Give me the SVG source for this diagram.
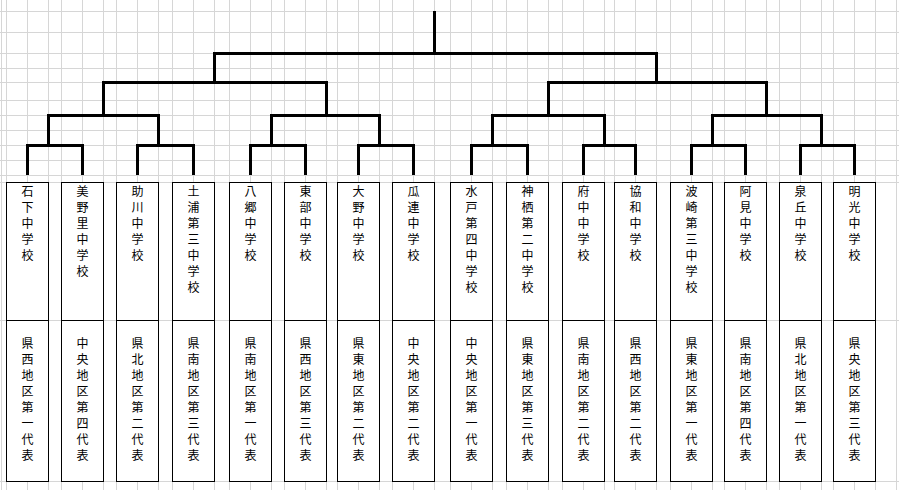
<svg xmlns="http://www.w3.org/2000/svg" width="899" height="490" viewBox="0 0 899 490">
<style>
.grid{stroke:#d6d6d6;stroke-width:1;fill:none}
.box{fill:#fff;stroke:#000;stroke-width:1}
.div{stroke:#000;stroke-width:1}
.con{fill:none;stroke:#000;stroke-width:3;stroke-linecap:butt;stroke-linejoin:miter}
.t{font-family:"Noto Sans CJK JP","Noto Sans CJK SC",sans-serif;font-size:12px;fill:#000;text-anchor:middle}
</style>
<rect width="899" height="490" fill="#fff"/>
<g id="grid" class="grid">
<path d="M1.5 0V490M6.5 0V490M896.5 0V490
M27.5 0V490M48.5 0V490M61.5 0V490M82.5 0V490M103.5 0V490M116.5 0V490M137.5 0V490M158.5 0V490
M172.5 0V490M193.5 0V490M214.5 0V490M229.5 0V490M250.5 0V490M271.5 0V490M284.5 0V490M305.5 0V490M326.5 0V490
M337.5 0V490M358.5 0V490M379.5 0V490M392.5 0V490M413.5 0V490M434.5 0V490M450.5 0V490M471.5 0V490M492.5 0V490
M506.5 0V490M527.5 0V490M548.5 0V490M562.5 0V490M583.5 0V490M604.5 0V490M614.5 0V490M635.5 0V490M656.5 0V490
M670.5 0V490M691.5 0V490M712.5 0V490M724.5 0V490M745.5 0V490M766.5 0V490M779.5 0V490M800.5 0V490M821.5 0V490
M833.5 0V490M854.5 0V490M875.5 0V490"/>
<path d="M0 11.5H899M0 32.5H899M0 53.5H899M0 68.5H899M0 82.5H899M0 100.5H899M0 115.5H899M0 130.5H899M0 145.5H899M0 160.5H899M0 175.5H899M0 182.5H899M0 320.5H899M0 481.5H899"/>
</g>
<g id="connectors" class="con">
<path d="M27.5 175V145.5H82.5V175"/>
<path d="M137.5 175V145.5H193.5V175"/>
<path d="M250.5 175V145.5H305.5V175"/>
<path d="M358.5 175V145.5H413.5V175"/>
<path d="M471.5 175V145.5H527.5V175"/>
<path d="M583.5 175V145.5H635.5V175"/>
<path d="M691.5 175V145.5H745.5V175"/>
<path d="M800.5 175V145.5H854.5V175"/>
<path d="M48.5 145.5V115.5H158.5V145.5"/>
<path d="M271.5 145.5V115.5H379.5V145.5"/>
<path d="M492.5 145.5V115.5H604.5V145.5"/>
<path d="M712.5 145.5V115.5H821.5V145.5"/>
<path d="M103.5 115.5V82.5H326.5V115.5"/>
<path d="M548.5 115.5V82.5H766.5V115.5"/>
<path d="M214.5 82.5V53.5H656.5V82.5"/>
<path d="M434.5 11V53.5"/>
</g>
<g id="n1"><rect class="box" x="6.5" y="182.5" width="42" height="299"/><line class="div" x1="6.5" y1="320.5" x2="48.5" y2="320.5"/>
<text class="t" x="27.5 27.5 27.5 27.5 27.5" y="196 212 228 244 260">石下中学校</text>
<text class="t" x="27.5 27.5 27.5 27.5 27.5 27.5 27.5 27.5" y="348 364 380 396 412 428 444 460">県西地区第一代表</text></g>
<g id="n2"><rect class="box" x="61.5" y="182.5" width="42" height="299"/><line class="div" x1="61.5" y1="320.5" x2="103.5" y2="320.5"/>
<text class="t" x="82.5 82.5 82.5 82.5 82.5 82.5" y="196 212 228 244 260 276">美野里中学校</text>
<text class="t" x="82.5 82.5 82.5 82.5 82.5 82.5 82.5 82.5" y="348 364 380 396 412 428 444 460">中央地区第四代表</text></g>
<g id="n3"><rect class="box" x="116.5" y="182.5" width="42" height="299"/><line class="div" x1="116.5" y1="320.5" x2="158.5" y2="320.5"/>
<text class="t" x="137.5 137.5 137.5 137.5 137.5" y="196 212 228 244 260">助川中学校</text>
<text class="t" x="137.5 137.5 137.5 137.5 137.5 137.5 137.5 137.5" y="348 364 380 396 412 428 444 460">県北地区第二代表</text></g>
<g id="n4"><rect class="box" x="172.5" y="182.5" width="42" height="299"/><line class="div" x1="172.5" y1="320.5" x2="214.5" y2="320.5"/>
<text class="t" x="193.5 193.5 193.5 193.5 193.5 193.5 193.5" y="196 212 228 244 260 276 292">土浦第三中学校</text>
<text class="t" x="193.5 193.5 193.5 193.5 193.5 193.5 193.5 193.5" y="348 364 380 396 412 428 444 460">県南地区第三代表</text></g>
<g id="n5"><rect class="box" x="229.5" y="182.5" width="42" height="299"/><line class="div" x1="229.5" y1="320.5" x2="271.5" y2="320.5"/>
<text class="t" x="250.5 250.5 250.5 250.5 250.5" y="196 212 228 244 260">八郷中学校</text>
<text class="t" x="250.5 250.5 250.5 250.5 250.5 250.5 250.5 250.5" y="348 364 380 396 412 428 444 460">県南地区第一代表</text></g>
<g id="n6"><rect class="box" x="284.5" y="182.5" width="42" height="299"/><line class="div" x1="284.5" y1="320.5" x2="326.5" y2="320.5"/>
<text class="t" x="305.5 305.5 305.5 305.5 305.5" y="196 212 228 244 260">東部中学校</text>
<text class="t" x="305.5 305.5 305.5 305.5 305.5 305.5 305.5 305.5" y="348 364 380 396 412 428 444 460">県西地区第三代表</text></g>
<g id="n7"><rect class="box" x="337.5" y="182.5" width="42" height="299"/><line class="div" x1="337.5" y1="320.5" x2="379.5" y2="320.5"/>
<text class="t" x="358.5 358.5 358.5 358.5 358.5" y="196 212 228 244 260">大野中学校</text>
<text class="t" x="358.5 358.5 358.5 358.5 358.5 358.5 358.5 358.5" y="348 364 380 396 412 428 444 460">県東地区第二代表</text></g>
<g id="n8"><rect class="box" x="392.5" y="182.5" width="42" height="299"/><line class="div" x1="392.5" y1="320.5" x2="434.5" y2="320.5"/>
<text class="t" x="413.5 413.5 413.5 413.5 413.5" y="196 212 228 244 260">瓜連中学校</text>
<text class="t" x="413.5 413.5 413.5 413.5 413.5 413.5 413.5 413.5" y="348 364 380 396 412 428 444 460">中央地区第二代表</text></g>
<g id="n9"><rect class="box" x="450.5" y="182.5" width="42" height="299"/><line class="div" x1="450.5" y1="320.5" x2="492.5" y2="320.5"/>
<text class="t" x="471.5 471.5 471.5 471.5 471.5 471.5 471.5" y="196 212 228 244 260 276 292">水戸第四中学校</text>
<text class="t" x="471.5 471.5 471.5 471.5 471.5 471.5 471.5 471.5" y="348 364 380 396 412 428 444 460">中央地区第一代表</text></g>
<g id="n10"><rect class="box" x="506.5" y="182.5" width="42" height="299"/><line class="div" x1="506.5" y1="320.5" x2="548.5" y2="320.5"/>
<text class="t" x="527.5 527.5 527.5 527.5 527.5 527.5 527.5" y="196 212 228 244 260 276 292">神栖第二中学校</text>
<text class="t" x="527.5 527.5 527.5 527.5 527.5 527.5 527.5 527.5" y="348 364 380 396 412 428 444 460">県東地区第三代表</text></g>
<g id="n11"><rect class="box" x="562.5" y="182.5" width="42" height="299"/><line class="div" x1="562.5" y1="320.5" x2="604.5" y2="320.5"/>
<text class="t" x="583.5 583.5 583.5 583.5 583.5" y="196 212 228 244 260">府中中学校</text>
<text class="t" x="583.5 583.5 583.5 583.5 583.5 583.5 583.5 583.5" y="348 364 380 396 412 428 444 460">県南地区第二代表</text></g>
<g id="n12"><rect class="box" x="614.5" y="182.5" width="42" height="299"/><line class="div" x1="614.5" y1="320.5" x2="656.5" y2="320.5"/>
<text class="t" x="635.5 635.5 635.5 635.5 635.5" y="196 212 228 244 260">協和中学校</text>
<text class="t" x="635.5 635.5 635.5 635.5 635.5 635.5 635.5 635.5" y="348 364 380 396 412 428 444 460">県西地区第二代表</text></g>
<g id="n13"><rect class="box" x="670.5" y="182.5" width="42" height="299"/><line class="div" x1="670.5" y1="320.5" x2="712.5" y2="320.5"/>
<text class="t" x="691.5 691.5 691.5 691.5 691.5 691.5 691.5" y="196 212 228 244 260 276 292">波崎第三中学校</text>
<text class="t" x="691.5 691.5 691.5 691.5 691.5 691.5 691.5 691.5" y="348 364 380 396 412 428 444 460">県東地区第一代表</text></g>
<g id="n14"><rect class="box" x="724.5" y="182.5" width="42" height="299"/><line class="div" x1="724.5" y1="320.5" x2="766.5" y2="320.5"/>
<text class="t" x="745.5 745.5 745.5 745.5 745.5" y="196 212 228 244 260">阿見中学校</text>
<text class="t" x="745.5 745.5 745.5 745.5 745.5 745.5 745.5 745.5" y="348 364 380 396 412 428 444 460">県南地区第四代表</text></g>
<g id="n15"><rect class="box" x="779.5" y="182.5" width="42" height="299"/><line class="div" x1="779.5" y1="320.5" x2="821.5" y2="320.5"/>
<text class="t" x="800.5 800.5 800.5 800.5 800.5" y="196 212 228 244 260">泉丘中学校</text>
<text class="t" x="800.5 800.5 800.5 800.5 800.5 800.5 800.5 800.5" y="348 364 380 396 412 428 444 460">県北地区第一代表</text></g>
<g id="n16"><rect class="box" x="833.5" y="182.5" width="42" height="299"/><line class="div" x1="833.5" y1="320.5" x2="875.5" y2="320.5"/>
<text class="t" x="854.5 854.5 854.5 854.5 854.5" y="196 212 228 244 260">明光中学校</text>
<text class="t" x="854.5 854.5 854.5 854.5 854.5 854.5 854.5 854.5" y="348 364 380 396 412 428 444 460">県央地区第三代表</text></g>
</svg>
